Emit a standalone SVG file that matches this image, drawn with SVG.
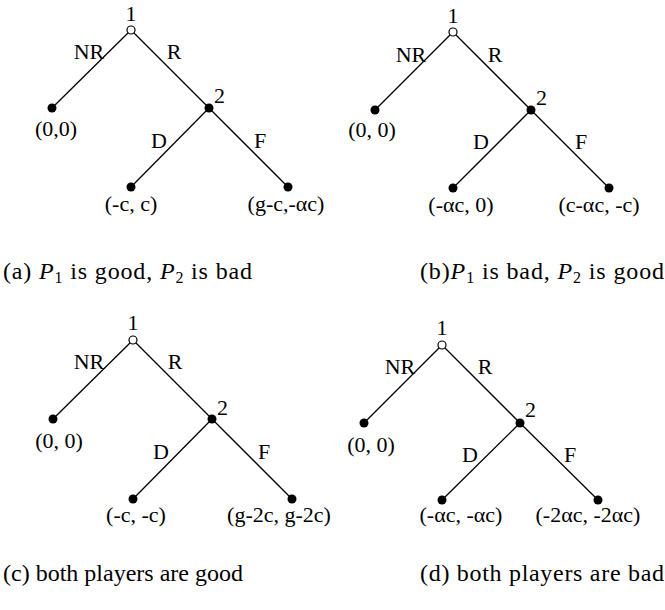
<svg xmlns="http://www.w3.org/2000/svg" width="665" height="610" viewBox="0 0 665 610">
<defs>
<style>
.e{stroke:#000;stroke-width:1.3;fill:none}
.o{fill:#fff;stroke:#000;stroke-width:1.2}
.f{fill:#000}
text{font-family:'Liberation Serif','Times New Roman',serif;fill:#000}
.t{font-size:22px}
.m{text-anchor:middle}
.cap{font-size:24px}
.i{font-style:italic}
.s{font-size:16px}
</style>
</defs>
<rect width="665" height="610" fill="#fff"/>

<g id="connectors">
<g id="a-edges">
<line class="e" x1="131" y1="30" x2="52" y2="108"/>
<line class="e" x1="131" y1="30" x2="209" y2="108"/>
<line class="e" x1="209" y1="108" x2="131" y2="187"/>
<line class="e" x1="209" y1="108" x2="288" y2="187"/>
<text class="t m" x="89" y="59">NR</text>
<text class="t m" x="174" y="59">R</text>
<text class="t m" x="159" y="148">D</text>
<text class="t m" x="260" y="148">F</text>
</g>
<g id="b-edges">
<line class="e" x1="453" y1="32" x2="375" y2="110"/>
<line class="e" x1="453" y1="32" x2="531" y2="110"/>
<line class="e" x1="531" y1="110" x2="453" y2="188"/>
<line class="e" x1="531" y1="110" x2="609" y2="188"/>
<text class="t m" x="411" y="62">NR</text>
<text class="t m" x="495" y="62">R</text>
<text class="t m" x="481" y="149">D</text>
<text class="t m" x="581" y="149">F</text>
</g>
<g id="c-edges">
<line class="e" x1="133" y1="340" x2="53" y2="419"/>
<line class="e" x1="133" y1="340" x2="212" y2="419"/>
<line class="e" x1="212" y1="419" x2="133" y2="499"/>
<line class="e" x1="212" y1="419" x2="292" y2="499"/>
<text class="t m" x="89" y="369">NR</text>
<text class="t m" x="175" y="369">R</text>
<text class="t m" x="161" y="459">D</text>
<text class="t m" x="264" y="459">F</text>
</g>
<g id="d-edges">
<line class="e" x1="442" y1="345" x2="364" y2="423"/>
<line class="e" x1="442" y1="345" x2="520" y2="423"/>
<line class="e" x1="520" y1="423" x2="442" y2="500"/>
<line class="e" x1="520" y1="423" x2="598" y2="500"/>
<text class="t m" x="400" y="374">NR</text>
<text class="t m" x="485" y="374">R</text>
<text class="t m" x="470" y="462">D</text>
<text class="t m" x="570" y="462">F</text>
</g>
</g>

<g id="tree-a">
<g id="a-n1"><circle class="o" cx="131" cy="30" r="4"/><text class="t m" x="131" y="21">1</text></g>
<g id="a-n2"><circle class="f" cx="209" cy="108" r="4.5"/><text class="t" x="214" y="103">2</text></g>
<g id="a-nr"><circle class="f" cx="52" cy="108" r="4.5"/><text class="t m" x="56" y="136">(0,0)</text></g>
<g id="a-d"><circle class="f" cx="131" cy="187" r="4.5"/><text class="t m" x="131" y="211">(-c, c)</text></g>
<g id="a-f"><circle class="f" cx="288" cy="187" r="4.5"/><text class="t m" x="286" y="211">(g-c,-αc)</text></g>
</g>

<g id="tree-b">
<g id="b-n1"><circle class="o" cx="453" cy="32" r="4"/><text class="t m" x="453" y="23">1</text></g>
<g id="b-n2"><circle class="f" cx="531" cy="110" r="4.5"/><text class="t" x="536" y="105">2</text></g>
<g id="b-nr"><circle class="f" cx="375" cy="110" r="4.5"/><text class="t m" x="372" y="137">(0, 0)</text></g>
<g id="b-d"><circle class="f" cx="453" cy="188" r="4.5"/><text class="t m" x="461" y="212">(-αc, 0)</text></g>
<g id="b-f"><circle class="f" cx="609" cy="188" r="4.5"/><text class="t m" x="599" y="212">(c-αc, -c)</text></g>
</g>

<g id="tree-c">
<g id="c-n1"><circle class="o" cx="133" cy="340" r="4"/><text class="t m" x="133" y="330">1</text></g>
<g id="c-n2"><circle class="f" cx="212" cy="419" r="4.5"/><text class="t" x="217" y="415">2</text></g>
<g id="c-nr"><circle class="f" cx="53" cy="419" r="4.5"/><text class="t m" x="59" y="448">(0, 0)</text></g>
<g id="c-d"><circle class="f" cx="133" cy="499" r="4.5"/><text class="t m" x="136" y="522">(-c, -c)</text></g>
<g id="c-f"><circle class="f" cx="292" cy="499" r="4.5"/><text class="t m" x="279" y="522">(g-2c, g-2c)</text></g>
</g>

<g id="tree-d">
<g id="d-n1"><circle class="o" cx="442" cy="345" r="4"/><text class="t m" x="442" y="335">1</text></g>
<g id="d-n2"><circle class="f" cx="520" cy="423" r="4.5"/><text class="t" x="525" y="417">2</text></g>
<g id="d-nr"><circle class="f" cx="364" cy="423" r="4.5"/><text class="t m" x="371" y="452">(0, 0)</text></g>
<g id="d-d"><circle class="f" cx="442" cy="500" r="4.5"/><text class="t m" x="461" y="522">(-αc, -αc)</text></g>
<g id="d-f"><circle class="f" cx="598" cy="500" r="4.5"/><text class="t m" x="588" y="522">(-2αc, -2αc)</text></g>
</g>

<g id="captions">
<text class="cap" x="3" y="279" textLength="249" lengthAdjust="spacing">(a) <tspan class="i">P</tspan><tspan class="s" dy="4">1</tspan><tspan dy="-4"> is good, </tspan><tspan class="i">P</tspan><tspan class="s" dy="4">2</tspan><tspan dy="-4"> is bad</tspan></text>
<text class="cap" x="420" y="279" textLength="244" lengthAdjust="spacing">(b)<tspan class="i">P</tspan><tspan class="s" dy="4">1</tspan><tspan dy="-4"> is bad, </tspan><tspan class="i">P</tspan><tspan class="s" dy="4">2</tspan><tspan dy="-4"> is good</tspan></text>
<text class="cap" x="3" y="581" textLength="240" lengthAdjust="spacing">(c) both players are good</text>
<text class="cap" x="420" y="581" textLength="244" lengthAdjust="spacing">(d) both players are bad</text>
</g>
</svg>
